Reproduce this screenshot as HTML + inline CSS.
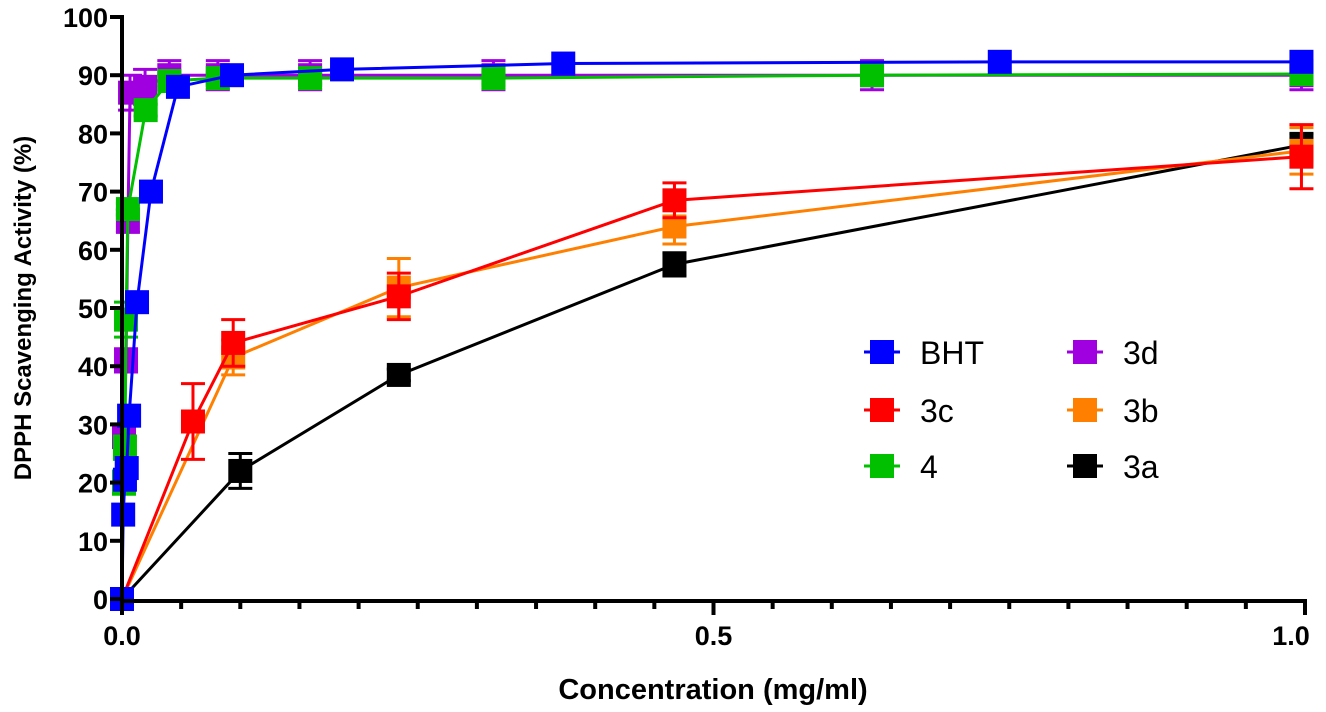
<!DOCTYPE html>
<html><head><meta charset="utf-8"><style>
body{margin:0;background:#fff;}
svg{display:block;font-family:"Liberation Sans",Arial,sans-serif;}
</style></head><body>
<svg id="chart" width="1326" height="712" viewBox="0 0 1326 712" xmlns="http://www.w3.org/2000/svg"></svg>
<script>
const seriesNames=["BHT","3c","4","3d","3b","3a"];
const seriesColors=["#0000ff","#ff0000","#00c000","#a000e0","#ff8000","#000000"];
const xBHT=[0,0.001,0.0025,0.004,0.006,0.0127,0.0245,0.0473,0.093,0.186,0.373,0.742,0.997];
const yBHT=[0,14.5,20.5,22.5,31.5,51,70,88,90,91,92,92.3,92.3];
const eBHT=[0,0,0,0,0,0,0,0,0,0,0,0,0];
const x4=[0.0017,0.0025,0.0034,0.005,0.02,0.04,0.081,0.159,0.314,0.634,0.997];
const y4=[20,26,48,67,84,89,89.5,89.5,89.5,90,90.2];
const e4=[2,2,3,1,1,1,1,1,1,1,1];
const x3d=[0.0017,0.0034,0.005,0.0068,0.0195,0.04,0.081,0.159,0.314,0.634,0.997];
const y3d=[28,41,65,87,88,90,90,90,90,90,90];
const e3d=[2,2,2,3,3,2.5,2.5,2.5,2.5,2.5,2.5];
const x3c=[0,0.06,0.094,0.234,0.467,0.997];
const y3c=[0,30.5,44,52,68.5,76];
const e3c=[0,6.5,4,4,3,5.5];
const x3b=[0,0.094,0.234,0.467,0.997];
const y3b=[0,41.5,53.5,64,77];
const e3b=[0,3,5,3,4];
const x3a=[0,0.1,0.234,0.467,0.997];
const y3a=[0,22,38.5,57.5,78];
const e3a=[0,3,1,2,2];
const yTicks=[0,10,20,30,40,50,60,70,80,90,100];
const xTickLabels=["0.0","0.5","1.0"];
const xTickVals=[0,0.5,1];

const NS="http://www.w3.org/2000/svg";
const svg=document.getElementById("chart");
const X0=122,X1=1305,Y0=599,Y1=17;
const sx=v=>X0+v*(X1-X0);
const sy=v=>Y0-v*(Y0-Y1)/100;
function mk(tag,attrs,parent){const e=document.createElementNS(NS,tag);for(const k in attrs)e.setAttribute(k,attrs[k]);(parent||svg).appendChild(e);return e;}

const data=[[xBHT,yBHT,eBHT],[x3c,y3c,e3c],[x4,y4,e4],[x3d,y3d,e3d],[x3b,y3b,e3b],[x3a,y3a,e3a]];
const order=[5,4,1,3,2,0];
order.forEach(i=>{
  const [xs,ys,es]=data[i];const c=seriesColors[i];
  const g=mk("g",{});
  
  
  const line=mk("polyline",{points:xs.map((x,j)=>sx(x)+","+sy(ys[j])).join(" "),fill:"none",stroke:c,"stroke-width":3},g);
  
  
  xs.forEach((x,j)=>{
    if(es[j]>0){
      const px=sx(x),t=sy(ys[j]+es[j]),b=sy(ys[j]-es[j]);
      const eb=mk("path",{d:`M${px},${t}V${b}M${px-12},${t}H${px+12}M${px-12},${b}H${px+12}`,stroke:c,"stroke-width":3,fill:"none"},g);
      
      
    }
    const r=mk("rect",{x:sx(x)-12,y:sy(ys[j])-12,width:24,height:24,fill:c},g);
    
    
  });
});

const ax=mk("path",{d:`M${X0},${Y1-2}V${Y0+2}H${X1+2}`,stroke:"#000","stroke-width":4,fill:"none"});


yTicks.forEach(v=>{
  const t=mk("line",{x1:X0-12,x2:X0,y1:sy(v),y2:sy(v),stroke:"#000","stroke-width":4});
  
  
  const l=mk("text",{x:X0-14,y:sy(v)+10,"text-anchor":"end","font-size":27,"font-weight":"bold"});
  l.textContent=v;
  
  
});
for(let k=0;k<=20;k++){
  const v=k*0.05;const major=k%10===0;
  const t=mk("line",{x1:sx(v),x2:sx(v),y1:Y0,y2:Y0+(major?16:10),stroke:"#000","stroke-width":4});
  
  
}
xTickVals.forEach((v,k)=>{
  const l=mk("text",{x:sx(v)-(k===2?14:0),y:Y0+46,"text-anchor":"middle","font-size":27,"font-weight":"bold"});
  l.textContent=xTickLabels[k];
  
  
});
const xt=mk("text",{x:713,y:699,"text-anchor":"middle","font-size":29,"font-weight":"bold"});
xt.textContent="Concentration (mg/ml)";


const yt=mk("text",{x:0,y:0,"text-anchor":"middle","font-size":24,"font-weight":"bold",transform:"translate(31,308) rotate(-90)"});
yt.textContent="DPPH Scavenging Activity (%)";



const legPos=[[882,352],[882,410],[882,466],[1085,352],[1085,410],[1085,466]];
seriesNames.forEach((n,i)=>{
  const [cx,cy]=legPos[i];
  const g=mk("g",{});
  
  
  mk("line",{x1:cx-18,x2:cx+18,y1:cy,y2:cy,stroke:seriesColors[i],"stroke-width":3},g);
  mk("rect",{x:cx-12,y:cy-12,width:24,height:24,fill:seriesColors[i]},g);
  const t=mk("text",{x:cx+38,y:cy+12,"font-size":32},g);
  t.textContent=n;
});
</script>
</body></html>
